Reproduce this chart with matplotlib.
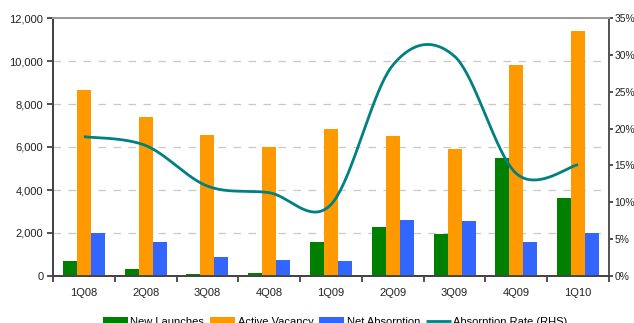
import numpy as np
import matplotlib
matplotlib.use("Agg")
import matplotlib.pyplot as plt
from matplotlib.ticker import FuncFormatter, FixedLocator

plt.rcParams["font.family"] = ["Liberation Sans", "DejaVu Sans"]
plt.rcParams["font.size"] = 8

quarters = ["1Q08", "2Q08", "3Q08", "4Q08", "1Q09", "2Q09", "3Q09", "4Q09", "1Q10"]
new_launches = [700, 330, 100, 150, 1580, 2280, 1950, 5490, 3630]
active_vacancy = [8650, 7400, 6560, 6000, 6840, 6510, 5900, 9810, 11400]
net_absorption = [2010, 1580, 890, 750, 700, 2600, 2560, 1580, 2000]
absorption_rate = [18.9, 17.7, 12.2, 11.3, 9.7, 28.6, 29.8, 13.9, 15.1]

GREEN = "#008000"
ORANGE = "#FF9900"
BLUE = "#3366FF"
TEAL = "#008080"


def smooth_curve(xs, ys, steps=40):
    """Bezier smoothing through the points (spreadsheet-style smoothed line)."""
    pts = np.column_stack([xs, ys]).astype(float)
    n = len(pts)
    out = [pts[0]]
    t = np.linspace(0, 1, steps)[1:, None]
    for i in range(n - 1):
        p0 = pts[i]
        p3 = pts[i + 1]
        prev = pts[i - 1] if i > 0 else pts[i]
        nxt = pts[i + 2] if i + 2 < n else pts[i + 1]
        c1 = p0 + (p3 - prev) / 6.0
        c2 = p3 - (nxt - p0) / 6.0
        seg = ((1 - t) ** 3) * p0 + 3 * ((1 - t) ** 2) * t * c1 + 3 * (1 - t) * t ** 2 * c2 + t ** 3 * p3
        out.extend(seg)
    out = np.array(out)
    return out[:, 0], out[:, 1]


fig = plt.figure(figsize=(6.34, 3.23), dpi=100)
ax = fig.add_axes([53 / 634, 47 / 323, 556 / 634, 258 / 323])
ax2 = ax.twinx()

x = np.arange(len(quarters))
w = 0.227
ax.bar(x - w, new_launches, w, color=GREEN, label="New Launches", zorder=3)
ax.bar(x, active_vacancy, w, color=ORANGE, label="Active Vacancy", zorder=3)
ax.bar(x + w, net_absorption, w, color=BLUE, label="Net Absorption", zorder=3)

sx, sy = smooth_curve(x, absorption_rate)
ax2.plot(sx, sy, color=TEAL, lw=2.0, label="Absorption Rate (RHS)", solid_capstyle="butt")

ax.set_xlim(-0.5, len(quarters) - 0.5)
ax.set_ylim(0, 12000)
ax2.set_ylim(0, 35)

ax.set_yticks(np.arange(0, 12001, 2000))
ax.yaxis.set_major_formatter(FuncFormatter(lambda v, p: f"{int(v):,}"))
ax2.set_yticks(np.arange(0, 36, 5))
ax2.yaxis.set_major_formatter(FuncFormatter(lambda v, p: f"{int(v)}%"))

ax.set_xticks(x)
ax.set_xticklabels(quarters)
ax.tick_params(axis="x", which="major", length=0, pad=9, colors="#222222")
ax.xaxis.set_minor_locator(FixedLocator(np.arange(-0.5, len(quarters), 1.0)))
ax.tick_params(axis="x", which="minor", length=4, width=1.2, direction="out", color="#333333")
ax.tick_params(axis="y", length=4, width=1.2, direction="out", color="#333333", labelcolor="#222222", pad=3)
ax2.tick_params(axis="y", length=3, width=1.2, direction="out", color="#333333", labelcolor="#222222",
                pad=1, labelsize=7.4)

for g in range(2000, 12000, 2000):
    ax.axhline(g, color="#c8c8c8", lw=0.9, dashes=(6, 6), zorder=1)

for a in (ax, ax2):
    a.spines["top"].set_color("#9a9a9a")
    a.spines["top"].set_linewidth(1.4)
    a.spines["left"].set_color("#444444")
    a.spines["left"].set_linewidth(1.3)
    a.spines["bottom"].set_color("#444444")
    a.spines["bottom"].set_linewidth(1.3)
    a.spines["right"].set_color("#555555")
    a.spines["right"].set_linewidth(1.3)

h1, l1 = ax.get_legend_handles_labels()
h2, l2 = ax2.get_legend_handles_labels()
fig.legend(h1 + h2, l1 + l2, loc="upper left", bbox_to_anchor=(97 / 634, 1 - 311 / 323),
           ncol=4, frameon=False, handlelength=2.3, handleheight=0.8,
           handletextpad=0.2, columnspacing=0.5, borderpad=0.0, fontsize=8)

fig.savefig("out.png", dpi=100)
